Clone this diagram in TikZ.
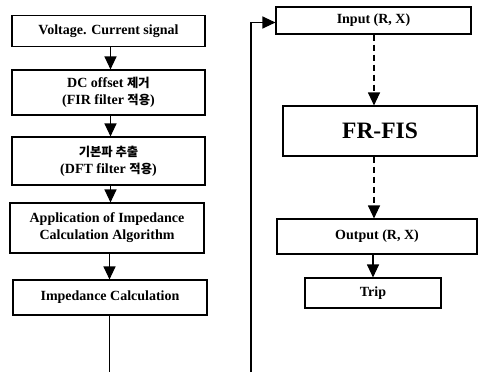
\documentclass[tikz,border=0pt]{standalone}
\usepackage{fontspec}
\setmainfont{Liberation Serif}
\newfontfamily\kr{Noto Sans CJK KR}[Scale=0.88]
\usetikzlibrary{arrows.meta}
\tikzset{
  box/.style={draw, line width=1.1pt, inner sep=0pt, align=center,
    font=\fontsize{14}{17}\selectfont\bfseries},
  arr/.style={line width=1.1pt, -{Triangle[width=12pt,length=13pt]}},
  darr/.style={line width=1.1pt, dash pattern=on 6pt off 4pt, -{Triangle[width=12pt,length=13pt]}},
  plain/.style={line width=1.1pt}
}
\begin{document}
\begin{tikzpicture}[x=1pt,y=-1pt]
\useasboundingbox (0,0) rectangle (478,372);
% left column
\node[box, minimum width=193pt, minimum height=31pt] (b1) at (108.5,31) {Voltage. Current signal};
\node[box, minimum width=193pt, minimum height=45pt] (b2) at (108.5,92.5) {DC offset {\kr 제거}\\({FIR filter} {\kr 적용})};
\node[box, minimum width=193pt, minimum height=48pt] (b3) at (108.5,161) {{\kr 기본파 추출}\\(DFT filter {\kr 적용})};
\node[box, minimum width=194pt, minimum height=50pt] (b4) at (107,228) {Application of Impedance\\Calculation Algorithm};
\node[box, minimum width=194pt, minimum height=35pt] (b5) at (110,297.5) {Impedance Calculation};
\coordinate (lb) at (109.5,372);
\coordinate (ac) at (110.5,0);
\draw[arr] (b1.south -| ac) -- (b2.north -| ac);
\draw[arr] (b2.south -| ac) -- (b3.north -| ac);
\draw[arr] (b3.south -| ac) -- (b4.north -| ac);
\draw[arr] (b4.south -| lb) -- (b5.north -| lb);
\draw[plain] (b5.south -| lb) -- (lb);
% right column
\node[box, minimum width=195pt, minimum height=27pt] (in) at (373.5,20.5) {Input (R, X)};
\node[box, minimum width=194pt, minimum height=50pt, font=\fontsize{23.5}{28}\selectfont\bfseries] (fr) at (380,131) {FR-FIS};
\node[box, minimum width=200pt, minimum height=35pt] (out) at (377,236.5) {Output (R, X)};
\node[box, minimum width=136pt, minimum height=30pt] (trip) at (373,293) {Trip};
\coordinate (dc) at (374,0);
\draw[darr] (in.south -| dc) -- (fr.north -| dc);
\draw[darr] (fr.south -| dc) -- (out.north -| dc);
\draw[arr] (out.south -| trip) -- (trip.north);
\coordinate (fb) at (251,372);
\draw[arr] (fb) |- ([yshift=-2pt]in.west);
\end{tikzpicture}
\end{document}
